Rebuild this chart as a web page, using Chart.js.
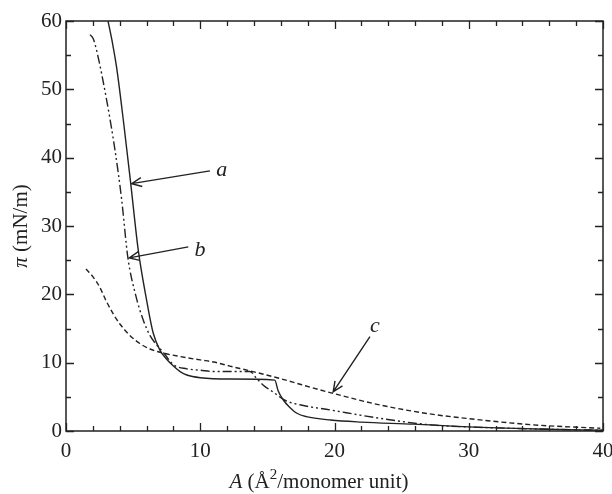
<!DOCTYPE html>
<html>
<head>
<meta charset="utf-8">
<script src="https://cdn.jsdelivr.net/npm/chart.js@4/dist/chart.umd.min.js"></script>
<style>
  html, body { margin: 0; padding: 0; background: #fff; }
  #wrap { width: 612px; height: 494px; }
</style>
</head>
<body>
<div id="wrap"><canvas id="c" width="612" height="494"></canvas></div>
<script>
// -- data (A in Å²/monomer, pi in mN/m) --
const curveA_x = [3.13, 3.45, 3.77, 4.3, 4.8, 5.38, 6.0, 6.5, 7.0, 7.5, 8.0, 8.5, 9.0, 10.0, 12.2, 15.55, 15.8, 16.2, 16.6, 17.2, 17.9, 19.7, 22.0, 25.9, 30.0, 35.0, 40.0];
const curveA_y = [60, 56.9, 53.2, 45.0, 36.6, 26.5, 19.2, 14.3, 11.8, 10.5, 9.5, 8.7, 8.2, 7.8, 7.6, 7.45, 5.9, 4.5, 3.6, 2.6, 2.1, 1.6, 1.3, 1.0, 0.6, 0.3, 0.1];

const curveB_x = [1.79, 2.03, 2.28, 3.03, 3.65, 4.15, 4.6, 5.2, 5.76, 6.25, 6.75, 7.25, 8.0, 9.0, 10.0, 11.0, 13.7, 14.2, 14.7, 15.5, 16.3, 17.5, 19.7, 23.4, 27.1, 30.0, 35.0, 40.0];
const curveB_y = [58.0, 57.4, 55.7, 48.4, 41.1, 33.8, 25.5, 19.8, 16.2, 14.0, 12.6, 11.5, 9.7, 9.1, 8.9, 8.7, 8.7, 7.7, 6.7, 5.6, 4.5, 3.8, 3.07, 1.85, 0.9, 0.6, 0.3, 0.1];

const curveC_x = [1.49, 2.0, 2.5, 3.0, 3.5, 4.0, 4.75, 5.5, 6.25, 7.25, 8.5, 10.0, 11.0, 12.2, 13.7, 15.9, 17.5, 19.9, 23.4, 27.1, 29.8, 34.8, 39.8];
const curveC_y = [23.7, 22.6, 21.1, 19.0, 17.2, 15.7, 14.0, 12.8, 12.0, 11.4, 10.9, 10.4, 10.1, 9.5, 8.8, 7.7, 6.8, 5.5, 3.8, 2.5, 1.85, 0.9, 0.4];

const xTicks = [0, 10, 20, 30, 40];
const xMinor = [2, 4, 6, 8, 12, 14, 16, 18, 22, 24, 26, 28, 32, 34, 36, 38];
const yTicks = [0, 10, 20, 30, 40, 50, 60];
const yMinor = [5, 15, 25, 35, 45, 55];

// curve labels: [text, labelX, labelY, tailX, tailY, headX, headY]
const labels = [
    ['a', 11.6, 38.1, 10.72, 38.06, 4.89, 36.2],
    ['b', 9.98, 26.4, 9.11, 26.95, 4.71, 25.34],
    ['c', 23.0, 15.3, 22.64, 13.8, 19.9, 5.74],
];

const INK = '#222';
const SERIF = "'Liberation Serif', 'DejaVu Serif', serif";

function pts(xs, ys) {
    return xs.map((x, i) => ({ x, y: ys[i] }));
}

function drawArrow(ctx, x1, y1, x2, y2) {
    const ang = Math.atan2(y2 - y1, x2 - x1);
    const len = 11, spread = 0.42;
    ctx.beginPath();
    ctx.moveTo(x1, y1);
    ctx.lineTo(x2, y2);
    ctx.moveTo(x2 - len * Math.cos(ang - spread), y2 - len * Math.sin(ang - spread));
    ctx.lineTo(x2, y2);
    ctx.lineTo(x2 - len * Math.cos(ang + spread), y2 - len * Math.sin(ang + spread));
    ctx.stroke();
}

// frame, inward ticks, tick labels, axis titles, curve labels
const decorations = {
    id: 'decorations',
    afterDraw(chart) {
        const { ctx, chartArea: a, scales } = chart;
        const xs = scales.x, ys = scales.y;
        ctx.save();
        ctx.strokeStyle = INK;
        ctx.fillStyle = INK;
        ctx.lineWidth = 1.5;
        ctx.strokeRect(a.left, a.top, a.right - a.left, a.bottom - a.top);

        ctx.lineWidth = 1.3;
        ctx.beginPath();
        const tickX = (v, len) => {
            const px = Math.round(xs.getPixelForValue(v)) + 0.5;
            ctx.moveTo(px, a.bottom); ctx.lineTo(px, a.bottom - len);
            ctx.moveTo(px, a.top); ctx.lineTo(px, a.top + len);
        };
        const tickY = (v, len) => {
            const py = Math.round(ys.getPixelForValue(v)) + 0.5;
            ctx.moveTo(a.left, py); ctx.lineTo(a.left + len, py);
            ctx.moveTo(a.right, py); ctx.lineTo(a.right - len, py);
        };
        xTicks.forEach(v => tickX(v, 8));
        xMinor.forEach(v => tickX(v, 5));
        yTicks.forEach(v => tickY(v, 8));
        yMinor.forEach(v => tickY(v, 5));
        ctx.stroke();

        ctx.font = '21px ' + SERIF;
        ctx.textAlign = 'center';
        ctx.textBaseline = 'alphabetic';
        xTicks.forEach(v => ctx.fillText(String(v), xs.getPixelForValue(v), a.bottom + 26));
        ctx.textAlign = 'right';
        ctx.textBaseline = 'middle';
        yTicks.forEach(v => ctx.fillText(String(v), a.left - 4, ys.getPixelForValue(v)));

        // x title: italic A, superscript 2
        const parts = [
            { t: 'A', f: 'italic 21px ' + SERIF, dy: 0 },
            { t: ' (Å', f: '21px ' + SERIF, dy: 0 },
            { t: '2', f: '15px ' + SERIF, dy: -9 },
            { t: '/monomer unit)', f: '21px ' + SERIF, dy: 0 },
        ];
        let total = 0;
        parts.forEach(p => { ctx.font = p.f; p.w = ctx.measureText(p.t).width; total += p.w; });
        let cx = 319 - total / 2;
        ctx.textAlign = 'left';
        ctx.textBaseline = 'alphabetic';
        parts.forEach(p => { ctx.font = p.f; ctx.fillText(p.t, cx, 488 + p.dy); cx += p.w; });

        // y title, rotated
        ctx.save();
        ctx.translate(27, 226);
        ctx.rotate(-Math.PI / 2);
        const yParts = [
            { t: 'π', f: 'italic 21px ' + SERIF },
            { t: ' (mN/m)', f: '21px ' + SERIF },
        ];
        let yt = 0;
        yParts.forEach(p => { ctx.font = p.f; p.w = ctx.measureText(p.t).width; yt += p.w; });
        let yx = -yt / 2;
        yParts.forEach(p => { ctx.font = p.f; ctx.fillText(p.t, yx, 0); yx += p.w; });
        ctx.restore();

        // curve labels with arrows
        ctx.lineWidth = 1.4;
        ctx.font = 'italic 22px ' + SERIF;
        ctx.textAlign = 'center';
        ctx.textBaseline = 'middle';
        labels.forEach(([t, lx, ly, tx, ty, hx, hy]) => {
            drawArrow(ctx, xs.getPixelForValue(tx), ys.getPixelForValue(ty),
                xs.getPixelForValue(hx), ys.getPixelForValue(hy));
            ctx.fillText(t, xs.getPixelForValue(lx), ys.getPixelForValue(ly));
        });
        ctx.restore();
    },
};

const lineStyle = {
    showLine: true,
    pointRadius: 0,
    borderColor: INK,
    borderWidth: 1.4,
    cubicInterpolationMode: 'monotone',
    fill: false,
};

new Chart(document.getElementById('c'), {
    type: 'scatter',
    data: {
        datasets: [
            { ...lineStyle, label: 'a', data: pts(curveA_x, curveA_y) },
            { ...lineStyle, label: 'b', data: pts(curveB_x, curveB_y), borderDash: [9, 3, 2, 3, 2, 3] },
            { ...lineStyle, label: 'c', data: pts(curveC_x, curveC_y), borderDash: [5, 3] },
        ],
    },
    options: {
        responsive: false,
        animation: false,
        layout: { padding: { top: 21, right: 9, bottom: 0, left: 0 } },
        plugins: { legend: { display: false }, tooltip: { enabled: false } },
        scales: {
            x: {
                type: 'linear', min: 0, max: 40,
                grid: { display: false, drawTicks: false },
                border: { display: false },
                ticks: { display: false },
                afterFit: (s) => { s.height = 63; },
            },
            y: {
                type: 'linear', min: 0, max: 60,
                grid: { display: false, drawTicks: false },
                border: { display: false },
                ticks: { display: false },
                afterFit: (s) => { s.width = 66; },
            },
        },
    },
    plugins: [decorations],
});
</script>
</body>
</html>
